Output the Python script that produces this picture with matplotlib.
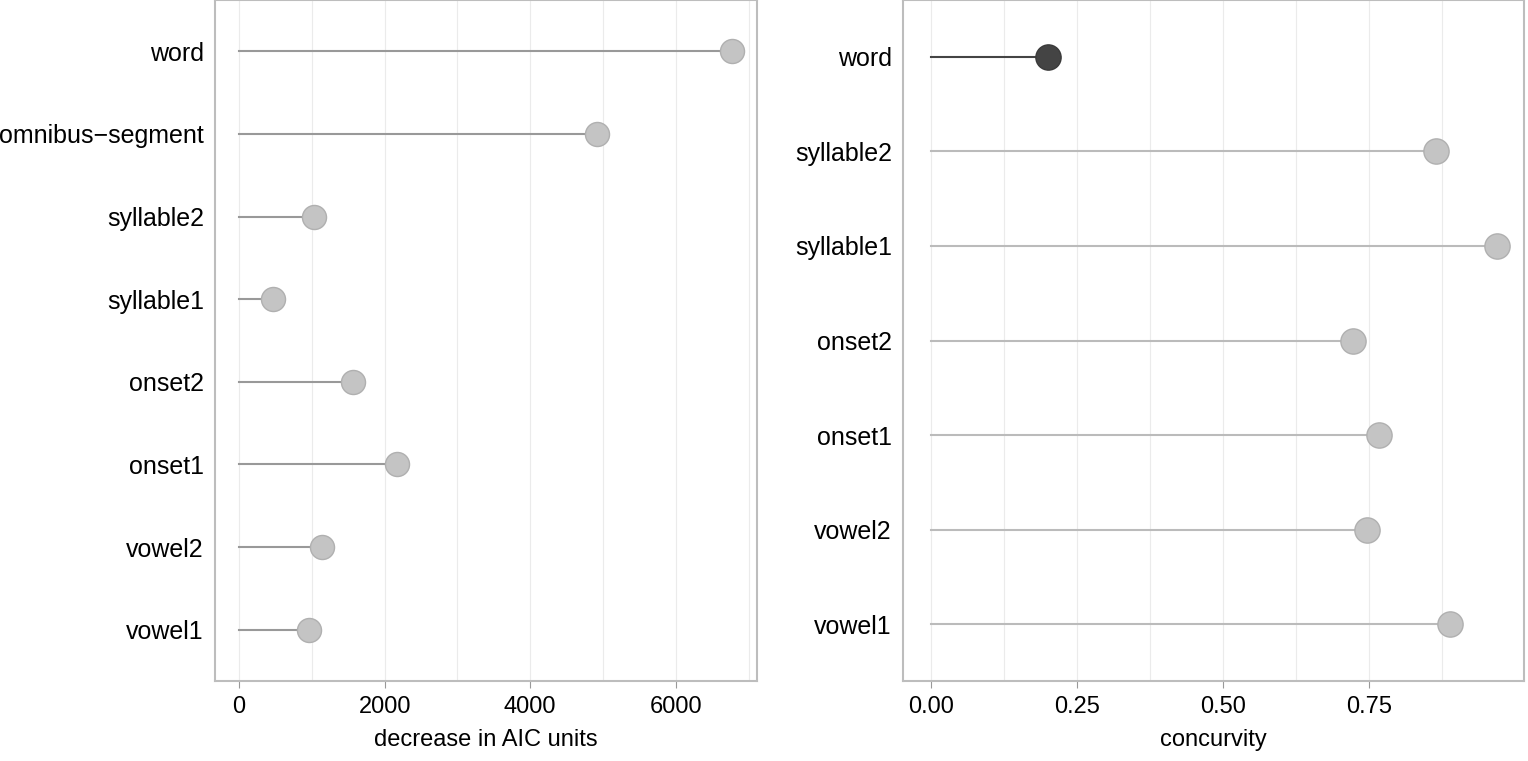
import matplotlib
matplotlib.use("Agg")
from matplotlib import pyplot as plt

plt.rcParams['font.family'] = ['Liberation Sans', 'DejaVu Sans']

# left panel data (bottom to top)
aic_labels = ['vowel1', 'vowel2', 'onset1', 'onset2', 'syllable1', 'syllable2', 'omnibus\u2212segment', 'word']
aic_values = [960, 1140, 2170, 1565, 467, 1030, 4916, 6770]

# right panel data (bottom to top)
conc_labels = ['vowel1', 'vowel2', 'onset1', 'onset2', 'syllable1', 'syllable2', 'word']
conc_values = [0.889, 0.747, 0.767, 0.723, 0.969, 0.866, 0.200]

fig = plt.figure(figsize=(15.28, 7.61), dpi=100)
ax1 = fig.add_axes([215/1528, 1-681/761, 542/1528, 681/761])
ax2 = fig.add_axes([903/1528, 1-681/761, 621/1528, 681/761])

def style(ax):
    for s in ax.spines.values():
        s.set_color('#bdbdbd')
        s.set_linewidth(1.5)
    ax.tick_params(axis='y', length=0, labelsize=18, pad=8)
    ax.tick_params(axis='x', length=5, color='#999999', labelsize=17, pad=6)
    ax.set_axisbelow(True)

# left
ys = list(range(1, len(aic_labels)+1))
for y, v in zip(ys, aic_values):
    ax1.plot([0, v], [y, y], color='#999999', lw=1.5, zorder=2)
ax1.scatter(aic_values, ys, s=300, color='#c4c4c4', edgecolor='#b0b0b0', lw=1, zorder=3)
ax1.set_yticks(ys)
ax1.set_yticklabels(aic_labels)
ax1.set_xlim(-330, 7115)
ax1.set_ylim(0.38, 8.62)
ax1.set_xticks([0, 2000, 4000, 6000])
ax1.set_xticks([1000, 3000, 5000, 7000], minor=True)
ax1.tick_params(axis='x', which='minor', length=0)
ax1.grid(axis='x', which='both', color='#ebebeb', lw=0.8)
ax1.set_xlabel('decrease in AIC units', fontsize=17, labelpad=8)
style(ax1)

# right
ys2 = list(range(1, len(conc_labels)+1))
for y, v, lab in zip(ys2, conc_values, conc_labels):
    dark = lab == 'word'
    ax2.plot([0, v], [y, y], color='#444444' if dark else '#bbbbbb', lw=1.5, zorder=2)
    ax2.scatter([v], [y], s=330, color='#444444' if dark else '#c4c4c4',
                edgecolor='#3a3a3a' if dark else '#b0b0b0', lw=1, zorder=3)
ax2.set_yticks(ys2)
ax2.set_yticklabels(conc_labels)
ax2.set_xlim(-0.048, 1.016)
ax2.set_ylim(0.40, 7.60)
ax2.set_xticks([0, 0.25, 0.5, 0.75])
ax2.set_xticklabels(['0.00', '0.25', '0.50', '0.75'])
ax2.set_xticks([0.125, 0.375, 0.625, 0.875], minor=True)
ax2.tick_params(axis='x', which='minor', length=0)
ax2.grid(axis='x', which='both', color='#ebebeb', lw=0.8)
ax2.set_xlabel('concurvity', fontsize=17, labelpad=8)
style(ax2)

fig.savefig('out.png', dpi=100)
